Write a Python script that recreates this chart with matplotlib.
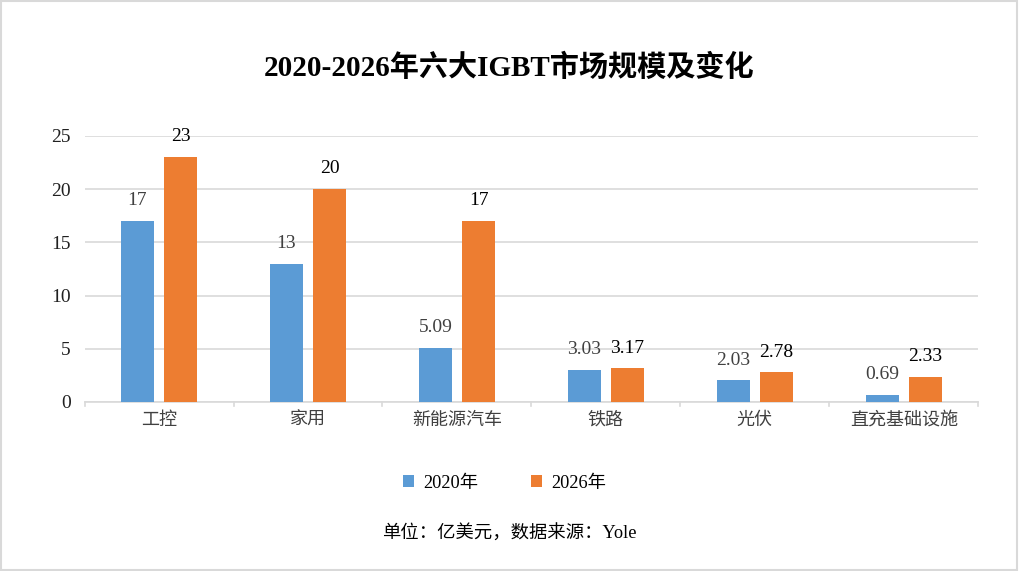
import numpy as np
import matplotlib.pyplot as plt
from matplotlib.patches import Rectangle

plt.rcParams['font.family'] = ['Liberation Serif', 'Noto Sans CJK SC']

categories = ['工控', '家用', '新能源汽车', '铁路', '光伏', '直充基础设施']
v2020 = [17, 13, 5.09, 3.03, 2.03, 0.69]
v2026 = [23, 20, 17, 3.17, 2.78, 2.33]
lab2020 = ['17', '13', '5.09', '3.03', '2.03', '0.69']
lab2026 = ['23', '20', '17', '3.17', '2.78', '2.33']

c_blue = '#5B9BD5'
c_orange = '#ED7D31'

fig = plt.figure(figsize=(10.19, 5.71), dpi=100)
ax = fig.add_axes([0.083, 0.296, 0.877, 0.466])

x = np.arange(len(categories))
w = 0.222
off = 0.145
b1 = ax.bar(x - off, v2020, w, color=c_blue, label='2020年', zorder=3)
b2 = ax.bar(x + off, v2026, w, color=c_orange, label='2026年', zorder=3)

for xi, v, t in zip(x - off, v2020, lab2020):
    ax.text(xi, v + 1.1, t, ha='center', va='bottom', fontsize=14, color='#404040')
for xi, v, t in zip(x + off, v2026, lab2026):
    ax.text(xi, v + 1.1, t, ha='center', va='bottom', fontsize=14, color='#000000')

ax.set_xlim(-0.5, len(categories) - 0.5)
ax.set_ylim(0, 25)
ax.set_yticks(range(0, 26, 5))
ax.yaxis.grid(True, color='#D9D9D9', linewidth=1.2, zorder=0)
ax.set_xticks(x)
ax.set_xticklabels(categories, fontsize=13, color='#404040')
ax.tick_params(axis='x', length=0, pad=7)
ax.tick_params(axis='y', length=0, labelsize=14, pad=10, labelcolor='#202020')
for bx in np.arange(-0.5, len(categories), 1.0):
    ax.plot([bx, bx], [0, -0.35], color='#D9D9D9', linewidth=1.2, clip_on=False)
for s in ['top', 'right', 'left']:
    ax.spines[s].set_visible(False)
ax.spines['bottom'].set_color('#D9D9D9')
ax.spines['bottom'].set_linewidth(1.2)

fig.text(0.5, 0.882, '2020-2026年六大IGBT市场规模及变化', ha='center', va='center',
         fontsize=21, fontweight='bold')
fig.legend(handles=[b1, b2], loc='center', bbox_to_anchor=(0.495, 0.154), ncol=2,
           frameon=False, fontsize=13.2, handlelength=0.6, handleheight=0.6,
           columnspacing=2.9, handletextpad=0.5)
fig.text(0.5, 0.066, '单位：亿美元，数据来源：Yole', ha='center', va='center', fontsize=13.2)

fig.patches.append(Rectangle((0.001, 0.002), 0.997, 0.996, transform=fig.transFigure,
                             fill=False, edgecolor='#D9D9D9', linewidth=1.5))

fig.savefig('out.png', dpi=100)
